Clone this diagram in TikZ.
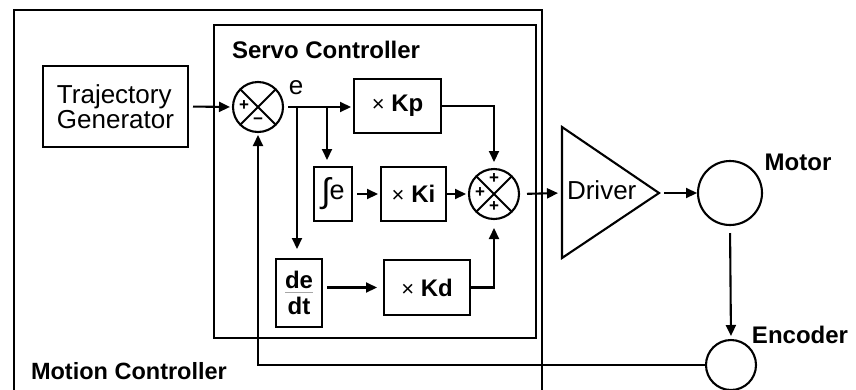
\documentclass[tikz,border=0pt]{standalone}
\usepackage{fontspec}
\setmainfont{Liberation Sans}
\usetikzlibrary{arrows.meta}
\begin{document}
\begin{tikzpicture}[x=1pt,y=-1pt,line width=2.1pt,
  box/.style={draw,line width=2.1pt,inner sep=0pt,outer sep=0pt,fill=white},
  sumc/.style={draw,circle,minimum size=50pt,inner sep=0pt,outer sep=0pt,fill=white},
  bigc/.style={draw,circle,inner sep=0pt,outer sep=0pt,fill=white},
  arr/.style={-{Triangle[length=11pt,width=10pt]},shorten <=5pt,shorten >=4pt},
  heavy/.style={font=\fontsize{24}{28}\selectfont\bfseries},
  light/.style={font=\fontsize{26}{28}\selectfont},
  sgn/.style={font=\fontsize{17}{17}\selectfont\bfseries,inner sep=0pt}
]
\useasboundingbox (0,0) rectangle (856,389);
\fill[white] (0,0) rectangle (856,389);

% outer Motion Controller box (bottom runs off the picture)
\draw (14,400) -- (14,10) -- (542,10) -- (542,400);
% Servo Controller box
\draw (214,25) rectangle (536,338);
\node[heavy,anchor=base west,inner sep=0pt] (sclab) at (231,58) {Servo Controller};
\node[heavy,anchor=base west,inner sep=0pt,font=\fontsize{23.5}{28}\selectfont\bfseries] (mclab) at (30,379) {Motion Controller};

% blocks
\node[box,light,align=left,minimum width=145pt,minimum height=81pt] (tg) at (115.5,106.5) {Trajectory\\[-3pt]Generator};
\node[sumc] (s1) at (258,107) {};
\draw[line width=1.8pt] (s1.north east) -- (s1.south west) (s1.north west) -- (s1.south east);
\node[sgn] at ([xshift=-14pt,yshift=1pt]s1.center) {+};
\node[sgn] at ([yshift=-14pt]s1.center) {\textminus};
\node[light,anchor=base,inner sep=0pt] (elab) at (296,94) {e};

\node[box,heavy,minimum width=87pt,minimum height=54pt] (kp) at (397.5,106) {{\normalfont\fontsize{22}{22}\selectfont×} Kp};
\node[box,minimum width=38pt,minimum height=54pt] (ie) at (333,194)
  {\raisebox{-3pt}{\fontsize{34}{34}\selectfont ∫}\kern-1pt{\fontsize{27}{27}\selectfont e}};
\node[box,heavy,minimum width=65pt,minimum height=54pt] (ki) at (413.5,194) {{\normalfont\fontsize{22}{22}\selectfont×} Ki};
\node[box,heavy,minimum width=46pt,minimum height=68pt,font=\fontsize{24}{24}\selectfont\bfseries] (dd) at (299,293)
  {\shortstack{de\\[0pt]\textcolor{gray!70}{\rule{28pt}{1.2pt}}\\[1pt]dt}};
\node[box,heavy,minimum width=86pt,minimum height=55pt] (kd) at (427,287.5) {{\normalfont\fontsize{22}{22}\selectfont×} Kd};

\node[sumc] (s2) at (494,194) {};
\draw[line width=1.8pt] (s2.north east) -- (s2.south west) (s2.north west) -- (s2.south east);
\node[sgn] at ([xshift=-14pt,yshift=1pt]s2.center) {+};
\node[sgn] at ([yshift=-13pt]s2.center) {+};
\node[sgn] at ([yshift=15pt]s2.center) {+};

% driver
\coordinate (drvtop) at (562,127);
\coordinate (drvbot) at (562,258);
\coordinate (drvtip) at (659,193);
\coordinate (drvin) at (562,193);
\draw[fill=white,line join=miter] (drvtop) -- (drvtip) -- (drvbot) -- cycle;
\node[light,anchor=base west,inner sep=0pt] (drvlab) at (566,199) {Driver};

\node[bigc,minimum size=64pt] (motor) at (730,193) {};
\node[heavy,inner sep=0pt] (motlab) at (798,162) {Motor};
\node[bigc,minimum size=50pt] (enc) at (731,365) {};
\node[heavy,inner sep=0pt] (enclab) at (800,335) {Encoder};

% branch points
\coordinate (b1) at (297,107);
\coordinate (b2) at (327,107);

% connectors
\draw[arr,shorten >=3pt] (tg.east) -- (s1.west);
\draw[arr,shorten >=3pt] (s1.east) -- (kp.west |- s1.east);
\draw[arr,shorten <=0pt,shorten >=10pt] (b1) -- (b1 |- dd.north);
\draw[arr,shorten <=0pt,shorten >=7pt] (b2) -- (b2 |- ie.north);
\draw[arr,shorten >=3pt] (ie.east) -- (ki.west);
\draw[arr,shorten <=1pt,shorten >=3pt] (ki.east) -- (s2.west);
\draw[arr,shorten <=0pt,shorten >=7pt] (kp.east) -| (s2.north);
\draw[arr,shorten <=0pt,shorten >=9pt] (kd.east) -| (s2.south);
\draw[arr,shorten >=7pt] (kd.west -| dd.east) -- (kd.west);
\draw[arr,shorten <=8pt] (s2.east) -- (drvin);
\draw[arr,shorten >=1pt] (drvtip) -- (motor.west);
\draw[arr,shorten <=8pt] (motor.south) -- (enc.north);
\draw[arr,shorten <=0pt,shorten >=3pt] (enc.west) -- (enc.west -| s1.south) -- (s1.south);
\end{tikzpicture}
\end{document}
